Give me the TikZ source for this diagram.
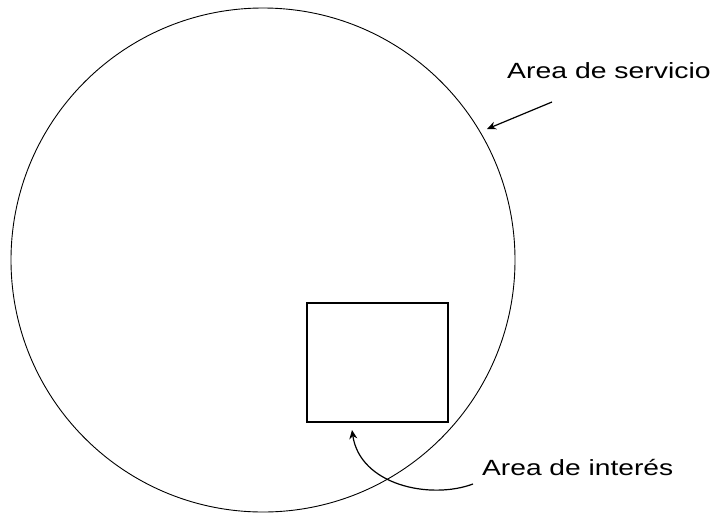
\documentclass[tikz,border=0pt]{standalone}
\usepackage{fontspec}
\setmainfont{Liberation Sans}
\usetikzlibrary{arrows.meta}
\begin{document}
\begin{tikzpicture}[x=1pt,y=1pt,
  lbl/.style={inner sep=0pt,anchor=base west,font=\fontsize{22}{26}\selectfont},
  pointer/.style={line width=1.2pt,-{Stealth[length=9pt,width=8pt]}}]
\useasboundingbox (0,0) rectangle (717,-517);
\node[draw,circle,line width=0.9pt,minimum size=504pt,inner sep=0pt] (servicio) at (263,-260) {};
\draw[line width=1.2pt] (307,-303) rectangle (448,-422);
\node (interes) at (377.5,-362.5) {};
\node[lbl] (lservicio) at (507,-78) {\scalebox{1.29}[1]{Area de servicio}};
\node[lbl] (linteres) at (482,-475) {\scalebox{1.28}[1]{Area de interés}};
\coordinate (s1) at (552,-102);
\coordinate (s2) at (487,-129);
\coordinate (i1) at (473,-484);
\coordinate (i2) at (352,-430);
\draw[pointer] (s1) -- (s2);
\draw[pointer] (i1) .. controls (430,-500) and (360,-485) .. (i2);
\end{tikzpicture}
\end{document}
